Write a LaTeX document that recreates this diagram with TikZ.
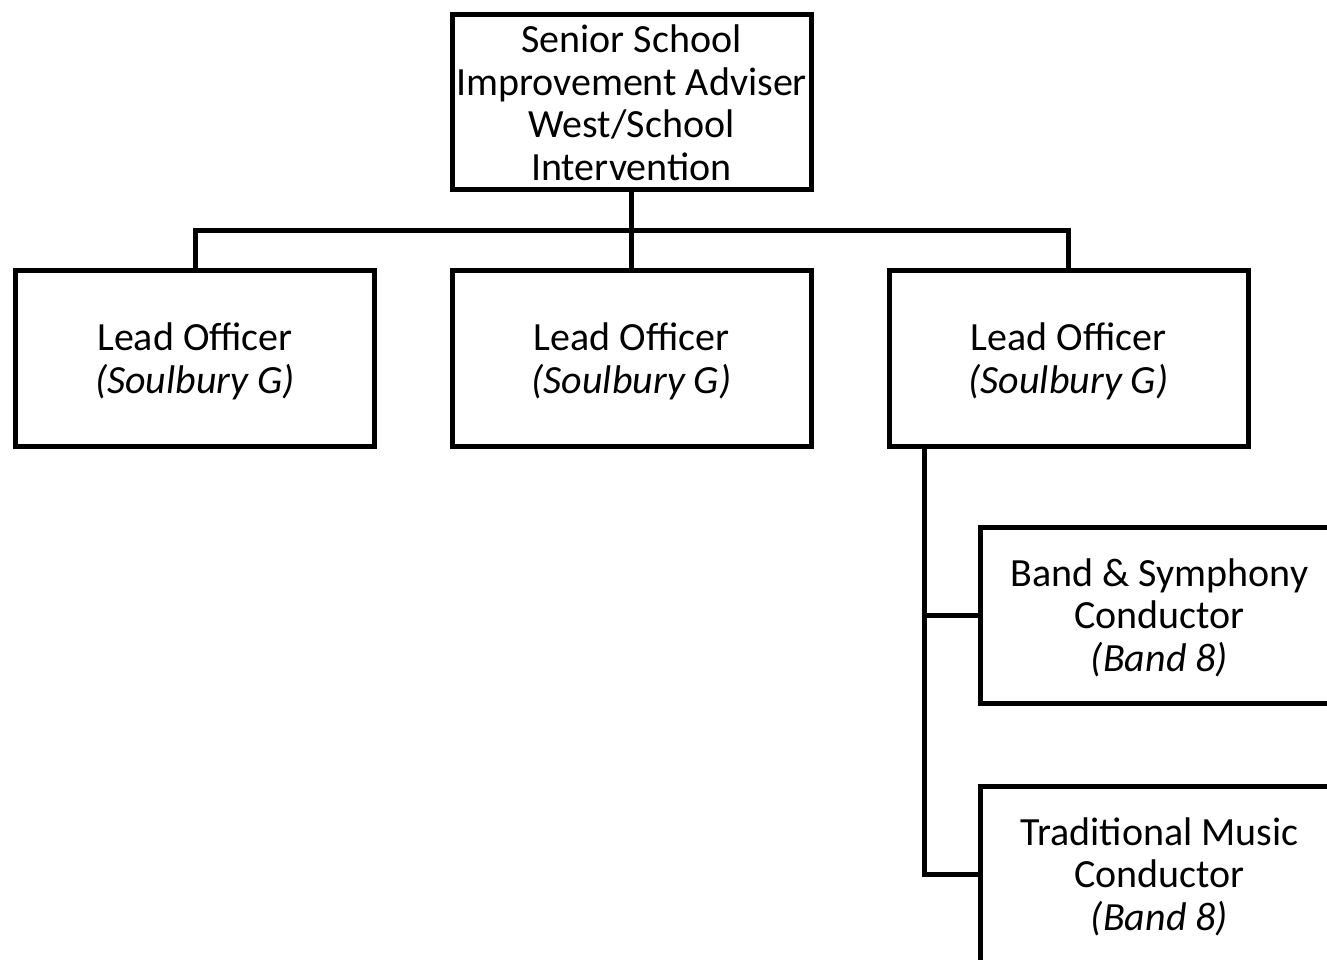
\documentclass[tikz,border=0pt]{standalone}
\usepackage{fontspec}
\setmainfont{Carlito}
\begin{document}
\begin{tikzpicture}[x=1pt,y=-1pt,
  box/.style={draw=black, line width=5pt, fill=white, rectangle, align=center,
    minimum width=359pt, minimum height=176pt, inner sep=0pt, text depth=0pt,
    font=\fontsize{40}{42.5}\selectfont},
  conn/.style={draw=black, line width=5pt}]
\useasboundingbox (0,0) rectangle (1327,960);
\clip (0,0) rectangle (1327,960);
\node[box, minimum height=175pt] (top) at (631.5,102.5) {Senior School\\Improvement Adviser\\West/School\\Intervention};
\node[box] (lead1) at (195,358) {Lead Officer\\\textit{(Soulbury G)}};
\node[box] (lead2) at (631.5,358) {Lead Officer\\\textit{(Soulbury G)}};
\node[box] (lead3) at (1068.5,358) {Lead Officer\\\textit{(Soulbury G)}};
\node[box] (band) at (1159.5,615) {Band \& Symphony\\Conductor\\\textit{(Band 8)}};
\node[box] (trad) at (1159.5,874) {Traditional Music\\Conductor\\\textit{(Band 8)}};
\coordinate (bus) at (631.5,230);
\coordinate (spine) at ([xshift=-144.5pt]lead3.south);
\draw[conn] (top.south) -- (bus);
\draw[conn] (lead1.north) |- (bus) -| (lead3.north);
\draw[conn] (bus) -- (lead2.north);
\draw[conn] (spine) |- (band.west);
\draw[conn] (spine) |- (trad.west);
\end{tikzpicture}
\end{document}
